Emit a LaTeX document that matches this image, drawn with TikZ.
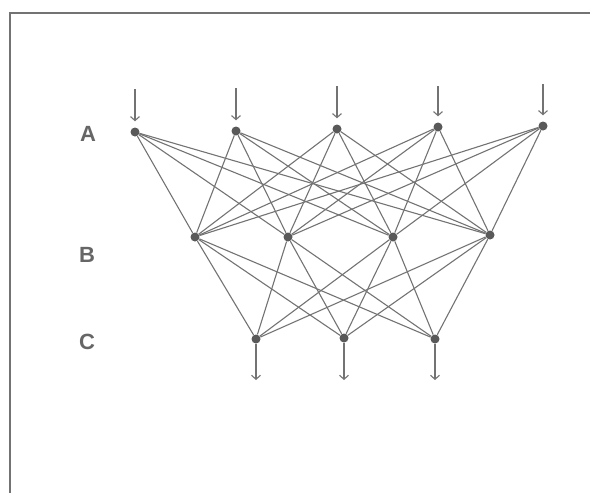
\documentclass[tikz,border=0pt]{standalone}
\usepackage{fontspec}
\setmainfont{Liberation Sans}
\usetikzlibrary{arrows.meta}

\begin{document}
\begin{tikzpicture}[x=1pt,y=-1pt,
		neuron/.style={circle,fill=black!65,inner sep=0pt,minimum size=9pt},
		layer/.style={text=black!60,font=\bfseries\fontsize{22}{24}\selectfont},
		link/.style={draw=black!55,line width=1.1pt},
		flow/.style={draw=black!55,line width=1.1pt,-{Straight Barb[length=4pt,width=9pt]}}]
	\useasboundingbox (0,0) rectangle (590,493);
	\clip (0,0) rectangle (590,493);
	\draw[black!55,line width=1.8pt] (10,13) rectangle (620,520);
	% couches
	\node[layer] (la) at (88,134) {A};
	\node[layer] (lb) at (87,255) {B};
	\node[layer] (lc) at (87,342) {C};
	\node[neuron] (a1) at (135,132) {};
	\node[neuron] (a2) at (236,131) {};
	\node[neuron] (a3) at (337,129) {};
	\node[neuron] (a4) at (438,127) {};
	\node[neuron] (a5) at (543,126) {};
	\node[neuron] (b1) at (195,237) {};
	\node[neuron] (b2) at (288,237) {};
	\node[neuron] (b3) at (393,237) {};
	\node[neuron] (b4) at (490,235) {};
	\node[neuron] (c1) at (256,339) {};
	\node[neuron] (c2) at (344,338) {};
	\node[neuron] (c3) at (435,339) {};
	% entrees et sorties
	\coordinate (i1) at (135,89);
	\coordinate (i2) at (236,88);
	\coordinate (i3) at (337,86);
	\coordinate (i4) at (438,86);
	\coordinate (i5) at (543,84);
	\coordinate (o1) at (256,380);
	\coordinate (o2) at (344,380);
	\coordinate (o3) at (435,380);
	\foreach \i in {1,...,5}
		\draw[flow,shorten >=6pt] (i\i) -- (a\i);
	\foreach \i in {1,2,3}
		\draw[flow] (c\i) -- (o\i);
	% connexions
	\foreach \i in {1,...,5}
		\foreach \j in {1,...,4}
			\draw[link] (a\i) -- (b\j);
	\foreach \j in {1,...,4}
		\foreach \k in {1,2,3}
			\draw[link] (b\j) -- (c\k);
\end{tikzpicture}
\end{document}
